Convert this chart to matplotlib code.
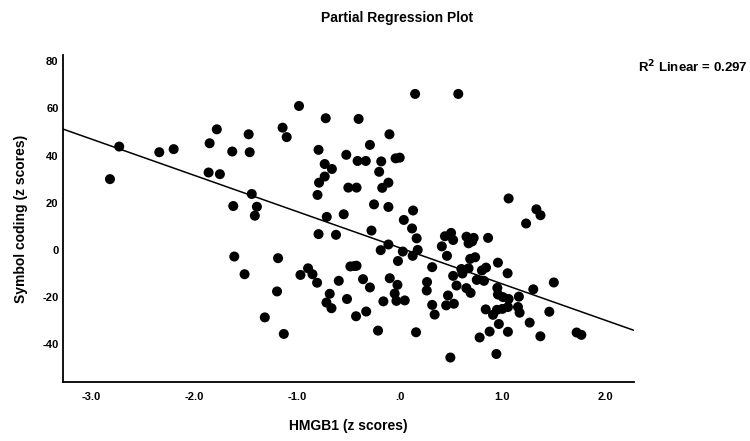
import matplotlib
matplotlib.use("Agg")
import matplotlib.pyplot as plt
import numpy as np

plt.rcParams['font.family'] = ['Liberation Sans', 'DejaVu Sans']

title = "Partial Regression Plot"
x_label = "HMGB1 (z scores)"
y_label = "Symbol coding (z scores)"
r2_text = r"R$^\mathbf{2}$ Linear = 0.297"

x_ticks = [-3.0, -2.0, -1.0, 0.0, 1.0, 2.0]
x_tick_labels = ["-3.0", "-2.0", "-1.0", ".0", "1.0", "2.0"]
y_ticks = [80, 60, 40, 20, 0, -20, -40]
y_tick_labels = ["80", "60", "40", "20", "0", "-20", "-40"]

# HMGB1 residuals (z scores)
hmgb1 = [
    -2.82, -2.73, -2.34, -2.20, -1.85, -1.78, -1.86, -1.75, -1.63, -1.62,
    -1.47, -1.46, -1.44, -1.39, -1.41, -1.61, -1.51, -1.14, -1.10, -0.98,
    -0.72, -0.40, -0.79, -0.52, -0.73, -0.66, -0.73, -0.785, -0.80, -0.50,
    -0.42, -0.41, -0.33, -0.29, -0.18, -0.10, -0.04, 0.00, -0.20, -0.11,
    -0.17, -0.25, -0.11, 0.15, 0.57, 0.13, 0.04, 0.12, 0.165, -0.71,
    -0.545, -0.275, -0.79, -0.62, 1.06, 1.33, 1.37, 1.23, 0.44, 0.50,
    0.52, 0.65, 0.72, 0.67, 0.705, 0.86, -0.11, -0.185, 0.03, 0.175,
    0.126, -0.017, 0.41, 0.46, 0.686, 0.734, 0.316, 0.60, 0.61, 0.67,
    0.52, 0.80, 0.84, 0.956, 1.05, 0.75, 0.82, 0.95, 0.956, 1.005,
    1.06, 1.16, 1.30, 1.50, -0.42, -0.357, -0.29, -0.097, -0.022, -0.049,
    0.049, -0.032, -0.159, 0.266, 0.263, 0.553, 0.649, 0.69, 0.47, 0.316,
    0.34, 0.452, 0.527, 0.837, 0.908, 0.946, 0.999, 1.053, 1.151, 1.167,
    1.265, 1.456, 0.965, -0.326, -0.425, -0.211, 0.159, 0.778, 0.875, 1.053,
    1.369, 1.722, 1.768, 0.493, 0.941, -1.184, -0.966, -0.892, -0.849, -0.804,
    -0.593, -0.48, -0.438, -1.194, -0.681, -0.713, -0.664, -0.513, -1.313, -1.128,
]

# Symbol coding residuals (z scores)
symbol_coding = [
    30.0, 43.8, 41.4, 42.7, 45.2, 51.1, 32.8, 32.1, 41.7, 18.6,
    49.0, 41.4, 23.7, 18.3, 14.5, -2.8, -10.3, 51.8, 47.8, 61.0,
    55.8, 55.5, 42.4, 40.3, 36.4, 34.3, 31.1, 28.5, 23.3, 26.4,
    26.4, 37.7, 37.7, 44.5, 37.5, 49.0, 38.8, 39.1, 33.1, 28.5,
    26.3, 19.3, 18.2, 66.1, 66.1, 16.7, 12.7, 9.1, 4.9, 14.0,
    15.1, 8.2, 6.7, 6.4, 21.8, 17.2, 14.7, 11.2, 5.8, 7.2,
    4.2, 5.6, 5.1, 2.8, 3.6, 5.1, 2.3, -0.1, -0.7, 0.0,
    -2.5, -4.7, 1.5, -2.5, -3.8, -3.1, -7.3, -8.1, -10.0, -7.8,
    -11.0, -8.7, -7.5, -5.4, -9.9, -12.7, -13.1, -16.1, -18.9, -20.0,
    -20.8, -19.8, -16.7, -13.8, -6.7, -12.4, -15.9, -12.0, -14.8, -18.5,
    -21.4, -21.6, -21.8, -13.6, -17.2, -15.1, -16.2, -18.2, -19.3, -23.3,
    -27.4, -23.5, -22.8, -25.2, -27.5, -25.4, -25.0, -24.2, -24.2, -26.6,
    -30.8, -26.2, -31.4, -26.1, -28.1, -34.2, -34.9, -37.1, -34.6, -34.7,
    -36.6, -35.0, -36.0, -45.6, -44.1, -3.5, -10.6, -7.8, -10.3, -13.9,
    -13.1, -7.0, -6.8, -17.6, -18.6, -22.3, -24.7, -20.8, -28.6, -35.6,
]

# fitted line (intercept, slope)
fit_intercept = 0.91
fit_slope = -15.35

x_limits = (-3.28, 2.28)
y_limits = (-56.1, 82.6)

fig = plt.figure(figsize=(7.5, 4.41), dpi=100)
ax = fig.add_axes([0.0836, 0.1331, 0.7617, 0.7422])

ax.scatter(hmgb1, symbol_coding, s=52, color='black', edgecolors='none', zorder=3)

xl = np.array(x_limits)
ax.plot(xl, fit_intercept + fit_slope * xl, color='black', lw=1.1, zorder=2)

ax.set_xlim(*x_limits)
ax.set_ylim(*y_limits)

for s in ['top', 'right']:
    ax.spines[s].set_visible(False)
for s in ['left', 'bottom']:
    ax.spines[s].set_linewidth(1.3)
    ax.spines[s].set_color('black')

ax.set_xticks(x_ticks)
ax.set_xticklabels(x_tick_labels, fontsize=8, fontweight='bold')
ax.set_yticks(y_ticks)
ax.set_yticklabels(y_tick_labels, fontsize=8, fontweight='bold')
ax.tick_params(axis='both', length=0)
ax.tick_params(axis='x', pad=7)
ax.tick_params(axis='y', pad=3)

ax.set_xlabel(x_label, fontsize=10, fontweight='bold', labelpad=12)
ax.set_ylabel(y_label, fontsize=10, fontweight='bold', labelpad=10)

fig.text(397 / 750, 1 - 18 / 441, title, ha='center', va='center',
         fontsize=10, fontweight='bold')
fig.text(748 / 750, 1 - 67 / 441, r2_text, ha='right', va='center',
         fontsize=9.5, fontweight='bold')

fig.savefig("out.png", dpi=100)
